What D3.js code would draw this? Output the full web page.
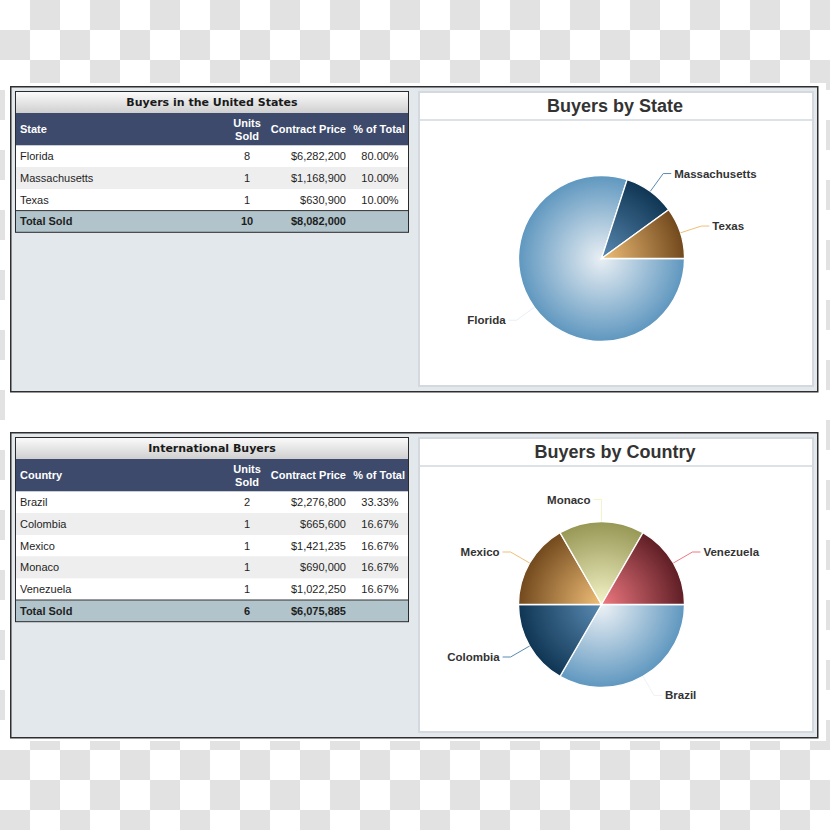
<!DOCTYPE html>
<html><head><meta charset="utf-8">
<script src="https://cdn.jsdelivr.net/npm/d3@7"></script>
<style>html,body{margin:0;padding:0;background:#fff;} svg{display:block;}</style>
</head><body>
<svg id="c" width="830" height="830"></svg>
<script>
// ---- data ----
const states = ["Florida", "Massachusetts", "Texas"];
const stateUnits = [8, 1, 1];
const statePrices = [6282200, 1168900, 630900];
const statePct = [80.00, 10.00, 10.00];

const countries = ["Brazil", "Colombia", "Mexico", "Monaco", "Venezuela"];
const countryUnits = [2, 1, 1, 1, 1];
const countryPrices = [2276800, 665600, 1421235, 690000, 1022250];
const countryPct = [33.33, 16.67, 16.67, 16.67, 16.67];

const tableTitles = ["Buyers in the United States", "International Buyers"];
const chartTitles = ["Buyers by State", "Buyers by Country"];
const firstHeaders = ["State", "Country"];
const totalLabel = "Total Sold";

// ---- styles ----
const statePalette = [["#e9eff4", "#5f97bf"], ["#5a8ab2", "#0f3553"], ["#f0bf78", "#72491d"]];
const countryPalette = [["#eef2f6", "#5f97bf"], ["#5a8ab2", "#0f3553"], ["#f0bf78", "#72491d"],
                        ["#f4f4c8", "#979755"], ["#ee7880", "#5f1e25"]];

const svg = d3.select("#c");
const defs = svg.append("defs");
const W = 830, H = 830, CELL = 30;

// checkerboard background
const cols = d3.range(Math.ceil(W / CELL)), rows = d3.range(Math.ceil(H / CELL));
const bg = svg.append("g");
rows.forEach(r => cols.forEach(c => {
  if ((r + c) % 2 === 1) bg.append("rect").attr("x", c * CELL).attr("y", r * CELL)
    .attr("width", CELL).attr("height", CELL).attr("fill", "#e2e2e2");
}));
svg.append("rect").attr("x", 5).attr("y", 83).attr("width", 821).attr("height", 658).attr("fill", "#fff");

// title bar gradient
const tg = defs.append("linearGradient").attr("id", "titlebar").attr("x1", 0).attr("y1", 0).attr("x2", 0).attr("y2", 1);
tg.append("stop").attr("offset", 0).attr("stop-color", "#fdfdfd");
tg.append("stop").attr("offset", 1).attr("stop-color", "#cfcfcf");

const fmtPrice = d3.format("$,");
const fmtPct = v => d3.format(".2f")(v) + "%";
const SANS = "'Liberation Sans', Arial, sans-serif";

function drawPanel(idx, t, names, units, prices, pcts, palette) {
  const g = svg.append("g");
  // outer panel
  g.append("rect").attr("x", 10.75).attr("y", t + 0.75).attr("width", 807).attr("height", 305)
    .attr("fill", "#e3e8ec").attr("stroke", "#2e2e2e").attr("stroke-width", 1.5);

  // ---- table ----
  const tx0 = 15, tx1 = 409;
  const titleH = 22, headH = 32.5;
  const headTop = t + 5 + titleH;
  const bodyTop = headTop + headH;
  const rowKeys = names.concat([totalLabel]);
  const y = d3.scaleBand().domain(rowKeys).range([bodyTop, bodyTop + rowKeys.length * 21.7]);
  const tBottom = y.range()[1];
  const colX = { name: 20, units: 247, price: 346, pct: 380 };

  g.append("rect").attr("x", tx0).attr("y", t + 5).attr("width", tx1 - tx0).attr("height", titleH)
    .attr("fill", "url(#titlebar)");
  g.append("text").attr("x", (tx0 + tx1) / 2).attr("y", t + 5 + titleH / 2).attr("dy", "0.36em")
    .attr("text-anchor", "middle").attr("font-family", "'DejaVu Sans', Verdana, sans-serif")
    .attr("font-weight", "bold").attr("font-size", 11).attr("fill", "#1a1a1a").text(tableTitles[idx]);

  g.append("rect").attr("x", tx0).attr("y", headTop).attr("width", tx1 - tx0).attr("height", headH)
    .attr("fill", "#3d4a6b");
  const hc = headTop + headH / 2;
  const head = g.append("g").attr("font-family", SANS).attr("font-weight", "bold").attr("font-size", 11).attr("fill", "#fff");
  head.append("text").attr("x", colX.name).attr("y", hc).attr("dy", "0.36em").text(firstHeaders[idx]);
  head.append("text").attr("x", colX.units).attr("y", hc - 6.5).attr("dy", "0.36em").attr("text-anchor", "middle").text("Units");
  head.append("text").attr("x", colX.units).attr("y", hc + 6.5).attr("dy", "0.36em").attr("text-anchor", "middle").text("Sold");
  head.append("text").attr("x", colX.price).attr("y", hc).attr("dy", "0.36em").attr("text-anchor", "end").text("Contract Price");
  head.append("text").attr("x", 405).attr("y", hc).attr("dy", "0.36em").attr("text-anchor", "end").text("% of Total");

  const body = g.append("g").attr("font-family", SANS).attr("font-size", 11).attr("fill", "#1e1e1e");
  names.forEach((n, i) => {
    body.append("rect").attr("x", tx0).attr("y", y(n)).attr("width", tx1 - tx0).attr("height", y.bandwidth())
      .attr("fill", i % 2 ? "#eeeeee" : "#ffffff");
    const cy = y(n) + y.bandwidth() / 2;
    body.append("text").attr("x", colX.name).attr("y", cy).attr("dy", "0.36em").text(n);
    body.append("text").attr("x", colX.units).attr("y", cy).attr("dy", "0.36em").attr("text-anchor", "middle").text(units[i]);
    body.append("text").attr("x", colX.price).attr("y", cy).attr("dy", "0.36em").attr("text-anchor", "end").text(fmtPrice(prices[i]));
    body.append("text").attr("x", colX.pct).attr("y", cy).attr("dy", "0.36em").attr("text-anchor", "middle").text(fmtPct(pcts[i]));
  });
  const ty = y(totalLabel);
  g.append("rect").attr("x", tx0).attr("y", ty).attr("width", tx1 - tx0).attr("height", y.bandwidth()).attr("fill", "#b1c4cb");
  const tot = g.append("g").attr("font-family", SANS).attr("font-weight", "bold").attr("font-size", 11).attr("fill", "#1e1e1e");
  const tcy = ty + y.bandwidth() / 2;
  tot.append("text").attr("x", colX.name).attr("y", tcy).attr("dy", "0.36em").text(totalLabel);
  tot.append("text").attr("x", colX.units).attr("y", tcy).attr("dy", "0.36em").attr("text-anchor", "middle").text(d3.sum(units));
  tot.append("text").attr("x", colX.price).attr("y", tcy).attr("dy", "0.36em").attr("text-anchor", "end").text(fmtPrice(d3.sum(prices)));
  g.append("line").attr("x1", tx0).attr("x2", tx1).attr("y1", ty).attr("y2", ty).attr("stroke", "#333").attr("stroke-width", 1);
  g.append("rect").attr("x", tx0 + 0.5).attr("y", t + 5.5).attr("width", tx1 - tx0 - 1).attr("height", tBottom - t - 5.5)
    .attr("fill", "none").attr("stroke", "#2a2a2a").attr("stroke-width", 1);

  // ---- chart panel ----
  g.append("rect").attr("x", 419).attr("y", t + 6).attr("width", 394).attr("height", 294)
    .attr("fill", "#fff").attr("stroke", "#d3d9de").attr("stroke-width", 2);
  g.append("line").attr("x1", 420).attr("x2", 812).attr("y1", t + 34).attr("y2", t + 34)
    .attr("stroke", "#dde2e7").attr("stroke-width", 2);
  g.append("text").attr("x", 615).attr("y", t + 26).attr("text-anchor", "middle")
    .attr("font-family", SANS).attr("font-weight", "bold").attr("font-size", 18).attr("fill", "#333").text(chartTitles[idx]);

  const R = 83;
  const pg = g.append("g").attr("transform", `translate(601.5,${t + 172.5})`);
  const pie = d3.pie().sort(null).startAngle(Math.PI / 2).endAngle(Math.PI / 2 + 2 * Math.PI);
  const arcs = pie(units);
  const arc = d3.arc().innerRadius(0).outerRadius(R);
  arcs.forEach((a, i) => {
    const id = `grad${idx}_${i}`;
    const rg = defs.append("radialGradient").attr("id", id).attr("gradientUnits", "userSpaceOnUse")
      .attr("cx", 0).attr("cy", 0).attr("r", R);
    rg.append("stop").attr("offset", 0).attr("stop-color", palette[i][0]);
    rg.append("stop").attr("offset", 1).attr("stop-color", palette[i][1]);
    pg.append("path").attr("d", arc(a)).attr("fill", `url(#${id})`).attr("stroke", "#fff").attr("stroke-width", 1.3);
  });
  // data labels with connectors
  arcs.forEach((a, i) => {
    const m = (a.startAngle + a.endAngle) / 2;
    const sx = Math.sin(m), sy = -Math.cos(m);
    const right = sx > 0.001;
    const p0 = [sx * R, sy * R], p1 = [sx * (R + 22), sy * (R + 22)];
    const p2 = [p1[0] + (right ? 8 : -8), p1[1]];
    pg.append("path").attr("d", d3.line()([p0, p1, p2])).attr("fill", "none")
      .attr("stroke", palette[i][0]).attr("stroke-width", 1);
    pg.append("text").attr("x", p2[0] + (right ? 3 : -3)).attr("y", p2[1]).attr("dy", "0.35em")
      .attr("text-anchor", right ? "start" : "end").attr("font-family", SANS).attr("font-weight", "bold")
      .attr("font-size", 11.5).attr("fill", "#333").text(names[i]);
  });
}

drawPanel(0, 86, states, stateUnits, statePrices, statePct, statePalette);
drawPanel(1, 432, countries, countryUnits, countryPrices, countryPct, countryPalette);
</script>
</body></html>
